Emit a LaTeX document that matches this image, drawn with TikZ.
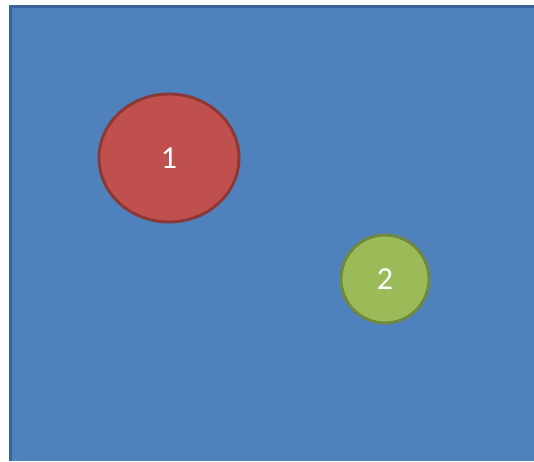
\documentclass[tikz,border=0pt]{standalone}
\usepackage{fontspec}
\setmainfont{Carlito}
\definecolor{bgblue}{HTML}{4F81BD}
\definecolor{bgedge}{HTML}{3A6399}
\definecolor{redfill}{HTML}{C0504D}
\definecolor{rededge}{HTML}{8C3836}
\definecolor{greenfill}{HTML}{9BBB59}
\definecolor{greenedge}{HTML}{71893F}
\tikzset{
  blob/.style={line width=2.2pt, text=white, font=\fontsize{24}{28}\selectfont, inner sep=0pt}
}
\begin{document}
\begin{tikzpicture}[x=0.75pt,y=-0.75pt]
\useasboundingbox[fill=white] (0,0) rectangle (534,461);
\fill[bgedge] (9,5) rectangle (534,461);
\fill[bgblue] (12,8) rectangle (534,461);
\draw[blob, fill=redfill, draw=rededge] (169,158) ellipse [x radius=70, y radius=64];
\node[blob] (n1) at (169,158) {1};
\draw[blob, fill=greenfill, draw=greenedge] (385,279) circle [radius=44];
\node[blob] (n2) at (385,279) {2};
\end{tikzpicture}
\end{document}
